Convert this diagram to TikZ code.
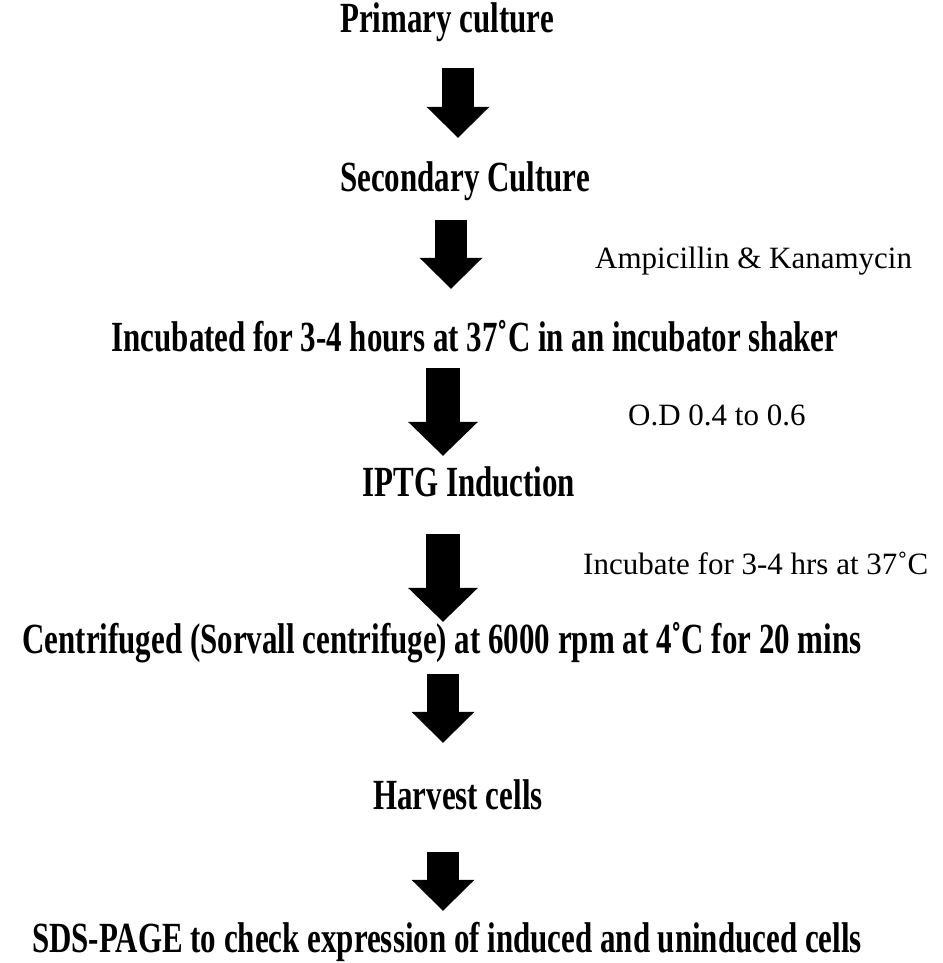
\documentclass[tikz,border=0pt]{standalone}
\usepackage{fontspec}
\setmainfont{Liberation Serif}[BoldFeatures={FakeStretch=0.72}]
\usetikzlibrary{arrows.meta}

\begin{document}
\begin{tikzpicture}[x=1pt, y=1pt,
    stepnode/.style={anchor=base, inner sep=0pt, text height=29pt, text depth=0pt,
      font=\fontsize{43}{50}\selectfont\bfseries},
    sidenote/.style={anchor=base west, inner sep=0pt, font=\fontsize{31}{36}\selectfont},
    bigarrow/.style={line width=32pt, -{Triangle[width=63pt, length=31pt, line width=0pt]}},
    widearrow/.style={line width=34pt, -{Triangle[width=70pt, length=34pt, line width=0pt]}}]
  \useasboundingbox (0,0) rectangle (942,963);

  % Protocol steps
  \node[stepnode] (primary) at (447,930) {Primary culture};
  \node[stepnode] (secondary) at (465,771) {Secondary Culture};
  \node[stepnode] (incubated) at (475,611) {Incubated for 3-4 hours at 37˚C in an incubator shaker};
  \node[stepnode] (iptg) at (469,466) {IPTG Induction};
  \node[stepnode] (centrifuged) at (442,309) {Centrifuged (Sorvall centrifuge) at 6000 rpm at 4˚C for 20 mins};
  \node[stepnode] (harvest) at (458,153) {Harvest cells};
  \node[stepnode] (sds) at (447,10) {SDS-PAGE to check expression of induced and uninduced cells};

  % Conditions beside the arrows
  \node[sidenote] (antibiotics) at (595,694) {Ampicillin \& Kanamycin};
  \node[sidenote] (od) at (628,537) {O.D 0.4 to 0.6};
  \node[sidenote] (induce) at (583,388) {Incubate for 3-4 hrs at 37˚C};

  % Arrow columns
  \coordinate (colA) at (458,0);
  \coordinate (colB) at (451,0);
  \coordinate (colC) at (443,0);

  \draw[bigarrow, shorten <=35pt, shorten >=25pt] (primary.south -| colA) -- (secondary.north -| colA);
  \draw[bigarrow, shorten <=28pt, shorten >=34pt] (secondary.south -| colB) -- (incubated.north -| colB);
  \draw[widearrow, shorten <=16pt, shorten >=12pt] (incubated.south -| colC) -- (iptg.north -| colC);
  \draw[widearrow, shorten <=37pt, shorten >=3pt] (iptg.south -| colC) -- (centrifuged.north -| colC);
  \draw[bigarrow, shorten <=20pt, shorten >=38pt] (centrifuged.south -| colC) -- (harvest.north -| colC);
  \draw[bigarrow, shorten <=42pt, shorten >=13pt] (harvest.south -| colC) -- (sds.north -| colC);
\end{tikzpicture}
\end{document}
